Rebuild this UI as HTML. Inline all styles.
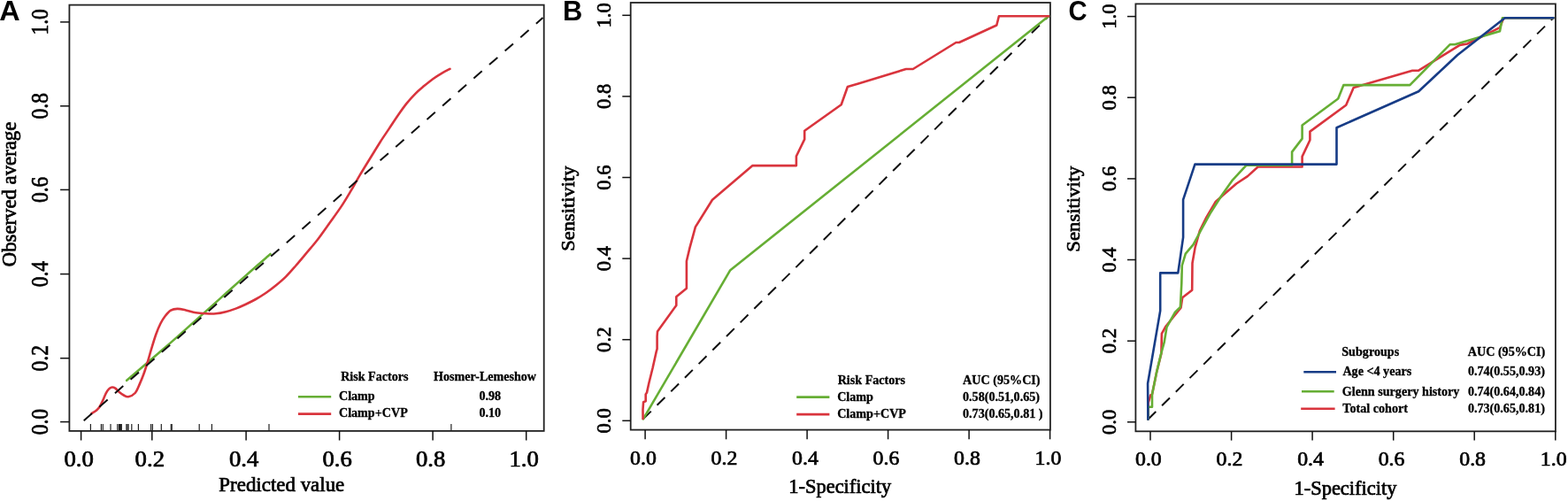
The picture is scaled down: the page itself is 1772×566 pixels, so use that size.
<!DOCTYPE html>
<html><head><meta charset="utf-8"><title>Calibration and ROC curves</title>
<style>html,body{margin:0;padding:0;background:#fff;overflow:hidden}svg{display:block}text{fill:#000}</style>
</head><body>
<svg width="1772" height="566" viewBox="0 0 1772 566">
<rect width="1772" height="566" fill="#fff"/>
<text transform="translate(-0.81,22.80) scale(1.0541,1)" font-family='"Liberation Sans", sans-serif' font-weight="bold" font-size="30.72">A</text>
<rect x="78.4" y="5.6" width="536.3" height="481.3" fill="none" stroke="#222" stroke-width="1.8"/>
<line x1="68.1" y1="476.6" x2="78.4" y2="476.6" stroke="#111" stroke-width="1.5"/>
<text transform="translate(53.70,491.29) rotate(-90) scale(0.8608,1)" font-family='"Liberation Serif", serif' font-weight="normal" font-size="27.30" stroke="#000" stroke-width="0.7">0.0</text>
<line x1="68.1" y1="404.7" x2="78.4" y2="404.7" stroke="#111" stroke-width="1.5"/>
<text transform="translate(53.70,419.39) rotate(-90) scale(0.8608,1)" font-family='"Liberation Serif", serif' font-weight="normal" font-size="27.30" stroke="#000" stroke-width="0.7">0.2</text>
<line x1="68.1" y1="309.6" x2="78.4" y2="309.6" stroke="#111" stroke-width="1.5"/>
<text transform="translate(53.70,324.29) rotate(-90) scale(0.8608,1)" font-family='"Liberation Serif", serif' font-weight="normal" font-size="27.30" stroke="#000" stroke-width="0.7">0.4</text>
<line x1="68.1" y1="214.4" x2="78.4" y2="214.4" stroke="#111" stroke-width="1.5"/>
<text transform="translate(53.70,229.09) rotate(-90) scale(0.8608,1)" font-family='"Liberation Serif", serif' font-weight="normal" font-size="27.30" stroke="#000" stroke-width="0.7">0.6</text>
<line x1="68.1" y1="119.8" x2="78.4" y2="119.8" stroke="#111" stroke-width="1.5"/>
<text transform="translate(53.70,134.49) rotate(-90) scale(0.8608,1)" font-family='"Liberation Serif", serif' font-weight="normal" font-size="27.30" stroke="#000" stroke-width="0.7">0.8</text>
<line x1="68.1" y1="24.9" x2="78.4" y2="24.9" stroke="#111" stroke-width="1.5"/>
<text transform="translate(53.70,39.59) rotate(-90) scale(0.8608,1)" font-family='"Liberation Serif", serif' font-weight="normal" font-size="27.30" stroke="#000" stroke-width="0.7">1.0</text>
<line x1="91.6" y1="486.8" x2="91.6" y2="497.5" stroke="#111" stroke-width="1.5"/>
<text transform="translate(72.41,527.00) scale(1.0988,1)" font-family='"Liberation Serif", serif' font-weight="normal" font-size="24.30" stroke="#000" stroke-width="0.7">0.0</text>
<line x1="171.8" y1="486.8" x2="171.8" y2="497.5" stroke="#111" stroke-width="1.5"/>
<text transform="translate(152.61,527.00) scale(1.0988,1)" font-family='"Liberation Serif", serif' font-weight="normal" font-size="24.30" stroke="#000" stroke-width="0.7">0.2</text>
<line x1="278.1" y1="486.8" x2="278.1" y2="497.5" stroke="#111" stroke-width="1.5"/>
<text transform="translate(258.91,527.00) scale(1.0988,1)" font-family='"Liberation Serif", serif' font-weight="normal" font-size="24.30" stroke="#000" stroke-width="0.7">0.4</text>
<line x1="383.6" y1="486.8" x2="383.6" y2="497.5" stroke="#111" stroke-width="1.5"/>
<text transform="translate(364.41,527.00) scale(1.0988,1)" font-family='"Liberation Serif", serif' font-weight="normal" font-size="24.30" stroke="#000" stroke-width="0.7">0.6</text>
<line x1="489.1" y1="486.8" x2="489.1" y2="497.5" stroke="#111" stroke-width="1.5"/>
<text transform="translate(469.91,527.00) scale(1.0988,1)" font-family='"Liberation Serif", serif' font-weight="normal" font-size="24.30" stroke="#000" stroke-width="0.7">0.8</text>
<line x1="594.7" y1="486.8" x2="594.7" y2="497.5" stroke="#111" stroke-width="1.5"/>
<text transform="translate(575.51,527.00) scale(1.0988,1)" font-family='"Liberation Serif", serif' font-weight="normal" font-size="24.30" stroke="#000" stroke-width="0.7">1.0</text>
<text transform="translate(247.36,554.50) scale(0.9972,1)" font-family='"Liberation Serif", serif' font-weight="normal" font-size="23.00" stroke="#000" stroke-width="0.7">Predicted value</text>
<text transform="translate(18.40,301.26) rotate(-90) scale(0.9814,1)" font-family='"Liberation Serif", serif' font-weight="normal" font-size="23.20" stroke="#000" stroke-width="0.7">Observed average</text>
<line x1="102.4" y1="479.0" x2="102.4" y2="486.8" stroke="#222" stroke-width="1.2"/>
<line x1="114.4" y1="479.0" x2="114.4" y2="486.8" stroke="#222" stroke-width="1.2"/>
<line x1="116.3" y1="479.0" x2="116.3" y2="486.8" stroke="#222" stroke-width="1.2"/>
<line x1="125.0" y1="479.0" x2="125.0" y2="486.8" stroke="#222" stroke-width="1.2"/>
<line x1="132.8" y1="479.0" x2="132.8" y2="486.8" stroke="#222" stroke-width="1.2"/>
<line x1="134.5" y1="479.0" x2="134.5" y2="486.8" stroke="#222" stroke-width="1.2"/>
<line x1="135.5" y1="479.0" x2="135.5" y2="486.8" stroke="#222" stroke-width="1.2"/>
<line x1="136.5" y1="479.0" x2="136.5" y2="486.8" stroke="#222" stroke-width="1.2"/>
<line x1="137.3" y1="479.0" x2="137.3" y2="486.8" stroke="#222" stroke-width="1.2"/>
<line x1="142.9" y1="479.0" x2="142.9" y2="486.8" stroke="#222" stroke-width="1.2"/>
<line x1="144.0" y1="479.0" x2="144.0" y2="486.8" stroke="#222" stroke-width="1.2"/>
<line x1="145.1" y1="479.0" x2="145.1" y2="486.8" stroke="#222" stroke-width="1.2"/>
<line x1="148.8" y1="479.0" x2="148.8" y2="486.8" stroke="#222" stroke-width="1.2"/>
<line x1="156.4" y1="479.0" x2="156.4" y2="486.8" stroke="#222" stroke-width="1.2"/>
<line x1="170.6" y1="479.0" x2="170.6" y2="486.8" stroke="#222" stroke-width="1.2"/>
<line x1="172.4" y1="479.0" x2="172.4" y2="486.8" stroke="#222" stroke-width="1.2"/>
<line x1="182.3" y1="479.0" x2="182.3" y2="486.8" stroke="#222" stroke-width="1.2"/>
<line x1="193.3" y1="479.0" x2="193.3" y2="486.8" stroke="#222" stroke-width="1.2"/>
<line x1="194.2" y1="479.0" x2="194.2" y2="486.8" stroke="#222" stroke-width="1.2"/>
<line x1="225.2" y1="479.0" x2="225.2" y2="486.8" stroke="#222" stroke-width="1.2"/>
<line x1="239.4" y1="479.0" x2="239.4" y2="486.8" stroke="#222" stroke-width="1.2"/>
<line x1="304.0" y1="479.0" x2="304.0" y2="486.8" stroke="#222" stroke-width="1.2"/>
<line x1="509.9" y1="479.0" x2="509.9" y2="486.8" stroke="#222" stroke-width="1.2"/>
<path d="M143.20,429.80 C149.33,424.55 170.53,406.45 180.00,398.30 C189.47,390.15 190.00,389.77 200.00,380.90 C210.00,372.03 227.05,356.68 240.00,345.10 C252.95,333.52 266.77,321.08 277.70,311.40 C288.63,301.72 300.95,291.07 305.60,287.00" fill="none" stroke="#66AE34" stroke-width="2.6" stroke-linejoin="round" stroke-linecap="round"/>
<path d="M103.50,467.20 C104.43,466.58 107.55,464.83 109.10,463.50 C110.65,462.17 111.65,460.97 112.80,459.20 C113.95,457.43 114.85,455.37 116.00,452.90 C117.15,450.43 118.55,446.62 119.70,444.40 C120.85,442.18 121.75,440.75 122.90,439.60 C124.05,438.45 125.37,437.67 126.60,437.50 C127.83,437.33 128.98,437.72 130.30,438.60 C131.62,439.48 132.92,441.48 134.50,442.80 C136.08,444.12 138.05,445.60 139.80,446.50 C141.55,447.40 142.85,448.62 145.00,448.20 C147.15,447.78 150.53,446.47 152.70,444.00 C154.87,441.53 156.40,436.93 158.00,433.40 C159.60,429.87 160.88,426.70 162.30,422.80 C163.72,418.90 165.08,414.60 166.50,410.00 C167.92,405.40 169.20,400.50 170.80,395.20 C172.40,389.90 174.33,383.15 176.10,378.20 C177.87,373.25 179.63,369.03 181.40,365.50 C183.17,361.97 184.77,359.48 186.70,357.00 C188.63,354.52 190.70,351.95 193.00,350.60 C195.30,349.25 197.67,348.93 200.50,348.90 C203.33,348.87 206.53,349.67 210.00,350.40 C213.47,351.13 217.53,352.65 221.30,353.30 C225.07,353.95 228.83,354.13 232.60,354.30 C236.37,354.47 240.13,354.65 243.90,354.30 C247.67,353.95 251.43,353.15 255.20,352.20 C258.97,351.25 262.73,350.02 266.50,348.60 C270.27,347.18 274.03,345.47 277.80,343.70 C281.57,341.93 285.33,340.12 289.10,338.00 C292.87,335.88 296.63,333.58 300.40,331.00 C304.17,328.42 307.93,325.57 311.70,322.50 C315.47,319.43 319.28,316.27 323.00,312.60 C326.72,308.93 330.18,304.87 334.00,300.50 C337.82,296.13 341.72,291.40 345.90,286.40 C350.08,281.40 354.68,276.23 359.10,270.50 C363.52,264.77 367.98,258.18 372.40,252.00 C376.82,245.82 381.63,239.37 385.60,233.40 C389.57,227.43 392.67,222.15 396.20,216.20 C399.73,210.25 402.85,204.35 406.80,197.70 C410.75,191.05 416.07,182.55 419.90,176.30 C423.73,170.05 426.50,165.35 429.80,160.20 C433.10,155.05 436.40,150.35 439.70,145.40 C443.00,140.45 446.30,135.25 449.60,130.50 C452.90,125.75 456.20,121.02 459.50,116.90 C462.80,112.78 466.10,109.10 469.40,105.80 C472.70,102.50 476.00,99.87 479.30,97.10 C482.60,94.33 485.90,91.58 489.20,89.20 C492.50,86.82 495.88,84.70 499.10,82.80 C502.32,80.90 506.93,78.63 508.50,77.80" fill="none" stroke="#D9343D" stroke-width="2.6" stroke-linejoin="round" stroke-linecap="round"/>
<line x1="94.7" y1="475.2" x2="613.5" y2="20.0" stroke="#111" stroke-width="2.0" stroke-dasharray="12.4 11.05"/>
<text transform="translate(385.14,430.30) scale(1.0233,1)" font-family='"Liberation Serif", serif' font-weight="bold" font-size="13.80" stroke="#000" stroke-width="0.3">Risk Factors</text>
<text transform="translate(490.04,430.30) scale(1.0206,1)" font-family='"Liberation Serif", serif' font-weight="bold" font-size="13.80" stroke="#000" stroke-width="0.3">Hosmer-Lemeshow</text>
<text transform="translate(382.94,451.90) scale(1.0239,1)" font-family='"Liberation Serif", serif' font-weight="bold" font-size="13.80" stroke="#000" stroke-width="0.3">Clamp</text>
<text transform="translate(382.94,471.20) scale(1.0239,1)" font-family='"Liberation Serif", serif' font-weight="bold" font-size="13.80" stroke="#000" stroke-width="0.3">Clamp+CVP</text>
<text transform="translate(541.38,451.90) scale(1.0239,1)" font-family='"Liberation Serif", serif' font-weight="bold" font-size="13.80" stroke="#000" stroke-width="0.3">0.98</text>
<text transform="translate(541.38,471.20) scale(1.0239,1)" font-family='"Liberation Serif", serif' font-weight="bold" font-size="13.80" stroke="#000" stroke-width="0.3">0.10</text>
<line x1="336.9" y1="448.2" x2="374.2" y2="448.2" stroke="#66AE34" stroke-width="2.6"/>
<line x1="336.9" y1="467.6" x2="374.2" y2="467.6" stroke="#D9343D" stroke-width="2.6"/>
<text transform="translate(635.90,22.90) scale(0.9937,1)" font-family='"Liberation Sans", sans-serif' font-weight="bold" font-size="31.01">B</text>
<rect x="712.7" y="3.0" width="474.2" height="482.6" fill="none" stroke="#222" stroke-width="1.8"/>
<line x1="703.3" y1="475.3" x2="712.7" y2="475.3" stroke="#111" stroke-width="1.5"/>
<text transform="translate(689.90,489.49) rotate(-90) scale(0.9827,1)" font-family='"Liberation Serif", serif' font-weight="normal" font-size="23.10" stroke="#000" stroke-width="0.7">0.0</text>
<line x1="729.1" y1="485.6" x2="729.1" y2="496.3" stroke="#111" stroke-width="1.5"/>
<text transform="translate(712.12,524.90) scale(1.0439,1)" font-family='"Liberation Serif", serif' font-weight="normal" font-size="22.80" stroke="#000" stroke-width="0.7">0.0</text>
<line x1="703.3" y1="383.7" x2="712.7" y2="383.7" stroke="#111" stroke-width="1.5"/>
<text transform="translate(689.90,397.89) rotate(-90) scale(0.9827,1)" font-family='"Liberation Serif", serif' font-weight="normal" font-size="23.10" stroke="#000" stroke-width="0.7">0.2</text>
<line x1="820.6" y1="485.6" x2="820.6" y2="496.3" stroke="#111" stroke-width="1.5"/>
<text transform="translate(803.62,524.90) scale(1.0439,1)" font-family='"Liberation Serif", serif' font-weight="normal" font-size="22.80" stroke="#000" stroke-width="0.7">0.2</text>
<line x1="703.3" y1="292.1" x2="712.7" y2="292.1" stroke="#111" stroke-width="1.5"/>
<text transform="translate(689.90,306.29) rotate(-90) scale(0.9827,1)" font-family='"Liberation Serif", serif' font-weight="normal" font-size="23.10" stroke="#000" stroke-width="0.7">0.4</text>
<line x1="912.1" y1="485.6" x2="912.1" y2="496.3" stroke="#111" stroke-width="1.5"/>
<text transform="translate(895.12,524.90) scale(1.0439,1)" font-family='"Liberation Serif", serif' font-weight="normal" font-size="22.80" stroke="#000" stroke-width="0.7">0.4</text>
<line x1="703.3" y1="200.5" x2="712.7" y2="200.5" stroke="#111" stroke-width="1.5"/>
<text transform="translate(689.90,214.69) rotate(-90) scale(0.9827,1)" font-family='"Liberation Serif", serif' font-weight="normal" font-size="23.10" stroke="#000" stroke-width="0.7">0.6</text>
<line x1="1003.6" y1="485.6" x2="1003.6" y2="496.3" stroke="#111" stroke-width="1.5"/>
<text transform="translate(986.62,524.90) scale(1.0439,1)" font-family='"Liberation Serif", serif' font-weight="normal" font-size="22.80" stroke="#000" stroke-width="0.7">0.6</text>
<line x1="703.3" y1="108.9" x2="712.7" y2="108.9" stroke="#111" stroke-width="1.5"/>
<text transform="translate(689.90,123.09) rotate(-90) scale(0.9827,1)" font-family='"Liberation Serif", serif' font-weight="normal" font-size="23.10" stroke="#000" stroke-width="0.7">0.8</text>
<line x1="1095.1" y1="485.6" x2="1095.1" y2="496.3" stroke="#111" stroke-width="1.5"/>
<text transform="translate(1078.12,524.90) scale(1.0439,1)" font-family='"Liberation Serif", serif' font-weight="normal" font-size="22.80" stroke="#000" stroke-width="0.7">0.8</text>
<line x1="703.3" y1="17.3" x2="712.7" y2="17.3" stroke="#111" stroke-width="1.5"/>
<text transform="translate(689.90,31.49) rotate(-90) scale(0.9827,1)" font-family='"Liberation Serif", serif' font-weight="normal" font-size="23.10" stroke="#000" stroke-width="0.7">1.0</text>
<line x1="1186.6" y1="485.6" x2="1186.6" y2="496.3" stroke="#111" stroke-width="1.5"/>
<text transform="translate(1169.62,524.90) scale(1.0439,1)" font-family='"Liberation Serif", serif' font-weight="normal" font-size="22.80" stroke="#000" stroke-width="0.7">1.0</text>
<text transform="translate(891.33,557.20) scale(1.0020,1)" font-family='"Liberation Serif", serif' font-weight="normal" font-size="22.40" stroke="#000" stroke-width="0.7">1-Specificity</text>
<text transform="translate(648.50,283.71) rotate(-90) scale(1.0366,1)" font-family='"Liberation Serif", serif' font-weight="normal" font-size="21.70" stroke="#000" stroke-width="0.7">Sensitivity</text>
<line x1="726.9" y1="473.4" x2="1185.1" y2="18.3" stroke="#111" stroke-width="2.0" stroke-dasharray="12.5 9.6"/>
<polyline points="726.9,473.4 825.3,305.2 1185.1,18.3" fill="none" stroke="#66AE34" stroke-width="2.6" stroke-linejoin="round" stroke-linecap="round"/>
<polyline points="726.6,473.0 726.5,463.0 727.1,454.2 729.7,453.3 729.7,445.4 731.0,443.6 733.3,433.0 737.7,415.3 741.6,397.7 742.6,394.1 742.6,380.0 743.0,374.6 764.3,344.9 764.3,335.3 775.9,325.8 775.9,295.0 779.5,279.9 785.9,256.4 805.0,225.7 850.5,187.1 899.9,187.1 899.9,176.5 909.2,157.4 909.2,147.8 950.7,118.2 957.9,98.0 970.0,94.4 1023.9,78.0 1031.8,78.0 1080.4,48.0 1083.9,48.0 1126.3,28.5 1128.9,18.3 1185.1,18.3" fill="none" stroke="#D9343D" stroke-width="2.6" stroke-linejoin="round" stroke-linecap="round"/>
<text transform="translate(946.64,433.90) scale(1.0239,1)" font-family='"Liberation Serif", serif' font-weight="bold" font-size="13.80" stroke="#000" stroke-width="0.3">Risk Factors</text>
<text transform="translate(1088.11,433.90) scale(1.0239,1)" font-family='"Liberation Serif", serif' font-weight="bold" font-size="13.80" stroke="#000" stroke-width="0.3">AUC (95%CI)</text>
<text transform="translate(946.14,452.50) scale(1.0239,1)" font-family='"Liberation Serif", serif' font-weight="bold" font-size="13.80" stroke="#000" stroke-width="0.3">Clamp</text>
<text transform="translate(1087.98,452.50) scale(1.0239,1)" font-family='"Liberation Serif", serif' font-weight="bold" font-size="13.80" stroke="#000" stroke-width="0.3">0.58(0.51,0.65)</text>
<text transform="translate(946.14,472.00) scale(1.0239,1)" font-family='"Liberation Serif", serif' font-weight="bold" font-size="13.80" stroke="#000" stroke-width="0.3">Clamp+CVP</text>
<text transform="translate(1087.98,472.00) scale(1.0239,1)" font-family='"Liberation Serif", serif' font-weight="bold" font-size="13.80" stroke="#000" stroke-width="0.3">0.73(0.65,0.81 )</text>
<line x1="900.2" y1="448.6" x2="937.4" y2="448.6" stroke="#66AE34" stroke-width="2.6"/>
<line x1="900.2" y1="468.1" x2="937.4" y2="468.1" stroke="#D9343D" stroke-width="2.6"/>
<text transform="translate(1207.43,23.19) scale(0.9284,1)" font-family='"Liberation Sans", sans-serif' font-weight="bold" font-size="31.41">C</text>
<rect x="1283.4" y="4.4" width="474.5" height="482.9" fill="none" stroke="#222" stroke-width="1.8"/>
<line x1="1274.0" y1="476.8" x2="1283.4" y2="476.8" stroke="#111" stroke-width="1.5"/>
<text transform="translate(1261.00,490.99) rotate(-90) scale(0.9827,1)" font-family='"Liberation Serif", serif' font-weight="normal" font-size="23.10" stroke="#000" stroke-width="0.7">0.0</text>
<line x1="1300.0" y1="487.3" x2="1300.0" y2="497.6" stroke="#111" stroke-width="1.5"/>
<text transform="translate(1283.03,526.00) scale(1.0439,1)" font-family='"Liberation Serif", serif' font-weight="normal" font-size="22.80" stroke="#000" stroke-width="0.7">0.0</text>
<line x1="1274.0" y1="385.2" x2="1283.4" y2="385.2" stroke="#111" stroke-width="1.5"/>
<text transform="translate(1261.00,399.35) rotate(-90) scale(0.9827,1)" font-family='"Liberation Serif", serif' font-weight="normal" font-size="23.10" stroke="#000" stroke-width="0.7">0.2</text>
<line x1="1391.6" y1="487.3" x2="1391.6" y2="497.6" stroke="#111" stroke-width="1.5"/>
<text transform="translate(1374.59,526.00) scale(1.0439,1)" font-family='"Liberation Serif", serif' font-weight="normal" font-size="22.80" stroke="#000" stroke-width="0.7">0.2</text>
<line x1="1274.0" y1="293.5" x2="1283.4" y2="293.5" stroke="#111" stroke-width="1.5"/>
<text transform="translate(1261.00,307.71) rotate(-90) scale(0.9827,1)" font-family='"Liberation Serif", serif' font-weight="normal" font-size="23.10" stroke="#000" stroke-width="0.7">0.4</text>
<line x1="1483.1" y1="487.3" x2="1483.1" y2="497.6" stroke="#111" stroke-width="1.5"/>
<text transform="translate(1466.14,526.00) scale(1.0439,1)" font-family='"Liberation Serif", serif' font-weight="normal" font-size="22.80" stroke="#000" stroke-width="0.7">0.4</text>
<line x1="1274.0" y1="201.9" x2="1283.4" y2="201.9" stroke="#111" stroke-width="1.5"/>
<text transform="translate(1261.00,216.07) rotate(-90) scale(0.9827,1)" font-family='"Liberation Serif", serif' font-weight="normal" font-size="23.10" stroke="#000" stroke-width="0.7">0.6</text>
<line x1="1574.7" y1="487.3" x2="1574.7" y2="497.6" stroke="#111" stroke-width="1.5"/>
<text transform="translate(1557.70,526.00) scale(1.0439,1)" font-family='"Liberation Serif", serif' font-weight="normal" font-size="22.80" stroke="#000" stroke-width="0.7">0.6</text>
<line x1="1274.0" y1="110.2" x2="1283.4" y2="110.2" stroke="#111" stroke-width="1.5"/>
<text transform="translate(1261.00,124.43) rotate(-90) scale(0.9827,1)" font-family='"Liberation Serif", serif' font-weight="normal" font-size="23.10" stroke="#000" stroke-width="0.7">0.8</text>
<line x1="1666.2" y1="487.3" x2="1666.2" y2="497.6" stroke="#111" stroke-width="1.5"/>
<text transform="translate(1649.27,526.00) scale(1.0439,1)" font-family='"Liberation Serif", serif' font-weight="normal" font-size="22.80" stroke="#000" stroke-width="0.7">0.8</text>
<line x1="1274.0" y1="18.6" x2="1283.4" y2="18.6" stroke="#111" stroke-width="1.5"/>
<text transform="translate(1261.00,32.79) rotate(-90) scale(0.9827,1)" font-family='"Liberation Serif", serif' font-weight="normal" font-size="23.10" stroke="#000" stroke-width="0.7">1.0</text>
<line x1="1757.8" y1="487.3" x2="1757.8" y2="497.6" stroke="#111" stroke-width="1.5"/>
<text transform="translate(1740.83,526.00) scale(1.0439,1)" font-family='"Liberation Serif", serif' font-weight="normal" font-size="22.80" stroke="#000" stroke-width="0.7">1.0</text>
<text transform="translate(1462.53,558.90) scale(1.0020,1)" font-family='"Liberation Serif", serif' font-weight="normal" font-size="22.40" stroke="#000" stroke-width="0.7">1-Specificity</text>
<text transform="translate(1219.80,284.63) rotate(-90) scale(1.0464,1)" font-family='"Liberation Serif", serif' font-weight="normal" font-size="21.70" stroke="#000" stroke-width="0.7">Sensitivity</text>
<line x1="1297.4" y1="473.8" x2="1755.5" y2="20.2" stroke="#111" stroke-width="2.0" stroke-dasharray="12.5 9.6"/>
<polyline points="1297.4,473.8 1297.6,455.0 1300.3,446.5 1302.0,445.6 1307.2,420.1 1312.4,399.4 1312.9,376.8 1317.6,368.5 1334.5,347.8 1336.2,336.2 1347.2,327.7 1347.5,297.3 1350.6,279.6 1355.9,260.5 1363.3,245.7 1373.9,227.7 1382.4,220.3 1397.2,207.5 1409.9,199.1 1421.6,188.5 1471.6,188.5 1471.6,176.9 1480.4,158.3 1480.4,148.6 1521.2,118.7 1529.7,98.9 1596.1,79.7 1603.2,79.7 1649.8,50.9 1658.3,49.5 1695.0,31.1 1699.3,20.2 1755.5,20.2" fill="none" stroke="#D9343D" stroke-width="2.6" stroke-linejoin="round" stroke-linecap="round"/>
<polyline points="1297.4,473.8 1297.4,459.8 1302.0,459.8 1302.0,445.6 1307.2,420.1 1312.2,399.4 1315.7,386.7 1318.5,369.7 1328.0,352.7 1333.9,346.9 1335.3,320.0 1335.8,300.0 1339.8,286.7 1348.5,276.4 1357.0,260.5 1367.5,241.4 1380.3,221.3 1393.0,203.3 1407.8,187.4 1409.5,186.6 1460.1,186.6 1460.1,171.6 1471.6,156.6 1471.6,141.5 1512.2,111.5 1518.4,96.1 1593.3,96.1 1638.5,50.3 1644.1,50.3 1695.0,35.3 1697.9,20.2 1755.5,20.2" fill="none" stroke="#66AE34" stroke-width="2.6" stroke-linejoin="round" stroke-linecap="round"/>
<polyline points="1297.4,473.8 1297.1,433.2 1311.2,351.1 1311.2,308.4 1331.3,308.4 1337.1,268.1 1337.1,225.7 1350.4,185.6 1510.5,185.6 1510.5,144.2 1603.2,103.2 1647.0,62.2 1700.7,20.2 1755.5,20.2" fill="none" stroke="#173C86" stroke-width="2.6" stroke-linejoin="round" stroke-linecap="round"/>
<text transform="translate(1516.27,401.80) scale(1.0239,1)" font-family='"Liberation Serif", serif' font-weight="bold" font-size="13.80" stroke="#000" stroke-width="0.3">Subgroups</text>
<text transform="translate(1658.81,401.50) scale(1.0239,1)" font-family='"Liberation Serif", serif' font-weight="bold" font-size="13.80" stroke="#000" stroke-width="0.3">AUC (95%CI)</text>
<text transform="translate(1517.41,424.40) scale(1.0239,1)" font-family='"Liberation Serif", serif' font-weight="bold" font-size="13.80" stroke="#000" stroke-width="0.3">Age &lt;4 years</text>
<text transform="translate(1658.88,424.40) scale(1.0239,1)" font-family='"Liberation Serif", serif' font-weight="bold" font-size="13.80" stroke="#000" stroke-width="0.3">0.74(0.55,0.93)</text>
<text transform="translate(1516.84,447.00) scale(1.0239,1)" font-family='"Liberation Serif", serif' font-weight="bold" font-size="13.80" stroke="#000" stroke-width="0.3">Glenn surgery history</text>
<text transform="translate(1658.88,447.00) scale(1.0239,1)" font-family='"Liberation Serif", serif' font-weight="bold" font-size="13.80" stroke="#000" stroke-width="0.3">0.74(0.64,0.84)</text>
<text transform="translate(1517.34,466.40) scale(1.0239,1)" font-family='"Liberation Serif", serif' font-weight="bold" font-size="13.80" stroke="#000" stroke-width="0.3">Total cohort</text>
<text transform="translate(1658.88,466.40) scale(1.0239,1)" font-family='"Liberation Serif", serif' font-weight="bold" font-size="13.80" stroke="#000" stroke-width="0.3">0.73(0.65,0.81)</text>
<line x1="1473.3" y1="420.3" x2="1510.0" y2="420.3" stroke="#173C86" stroke-width="2.6"/>
<line x1="1471.0" y1="442.2" x2="1507.7" y2="442.2" stroke="#66AE34" stroke-width="2.6"/>
<line x1="1470.2" y1="461.8" x2="1508.6" y2="461.8" stroke="#D9343D" stroke-width="2.6"/>
</svg>
</body></html>
